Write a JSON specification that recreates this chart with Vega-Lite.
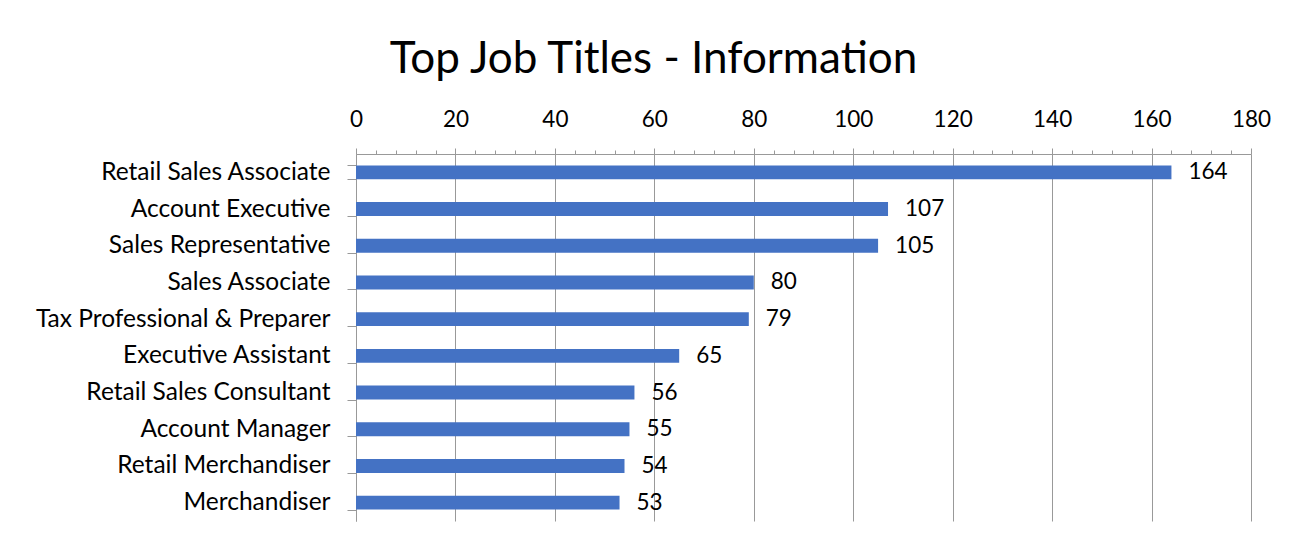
{
  "$schema": "https://vega.github.io/schema/vega-lite/v6.json",
  "autosize": {"type": "none"},
  "padding": {"left": 356, "top": 154, "right": 51, "bottom": 27},
  "width": 895,
  "height": 367,
  "background": "white",
  "title": {
    "text": "Top Job Titles - Information",
    "fontSize": 44,
    "font": "Lato",
    "fontWeight": "normal",
    "color": "black",
    "anchor": "middle",
    "dx": -150,
    "offset": 26
  },
  "data": {
    "values": [
      {"title": "Retail Sales Associate", "count": 164},
      {"title": "Account Executive", "count": 107},
      {"title": "Sales Representative", "count": 105},
      {"title": "Sales Associate", "count": 80},
      {"title": "Tax Professional & Preparer ", "count": 79},
      {"title": "Executive Assistant", "count": 65},
      {"title": "Retail Sales Consultant", "count": 56},
      {"title": "Account Manager", "count": 55},
      {"title": "Retail Merchandiser", "count": 54},
      {"title": "Merchandiser", "count": 53}
    ]
  },
  "encoding": {
    "y": {
      "field": "title",
      "type": "nominal",
      "sort": null,
      "scale": {"paddingInner": 0.62, "paddingOuter": 0.31},
      "axis": {
        "title": null,
        "orient": "left",
        "domainColor": "#999999",
        "tickColor": "#999999",
        "tickSize": 9,
        "tickBand": "extent",
        "labelPadding": 17,
        "labelFont": "Lato",
        "labelFontSize": 24.5,
        "labelColor": "black",
        "labelLimit": 400
      }
    }
  },
  "layer": [
    {
      "mark": {"type": "bar", "color": "#4472C4"},
      "encoding": {
        "x": {
          "field": "count",
          "type": "quantitative",
          "scale": {"domain": [0, 180], "nice": false},
          "axis": {
            "title": null,
            "orient": "top",
            "values": [0, 20, 40, 60, 80, 100, 120, 140, 160, 180],
            "grid": true,
            "gridColor": "#999999",
            "domainColor": "#999999",
            "tickColor": "#999999",
            "tickSize": 6,
            "labelFont": "Lato",
            "labelFontSize": 22.5,
            "labelColor": "black",
            "labelPadding": 17,
            "labelFlush": false,
            "labelOverlap": false
          }
        }
      }
    },
    {
      "mark": {"type": "text", "align": "left", "baseline": "middle", "dx": 17, "fontSize": 22.5, "font": "Lato", "color": "black"},
      "encoding": {
        "x": {
          "field": "count",
          "type": "quantitative",
          "axis": {
            "title": null,
            "orient": "top",
            "values": [4, 8, 12, 16, 24, 28, 32, 36, 44, 48, 52, 56, 64, 68, 72, 76, 84, 88, 92, 96, 104, 108, 112, 116, 124, 128, 132, 136, 144, 148, 152, 156, 164, 168, 172, 176],
            "labels": false,
            "grid": false,
            "domain": false,
            "tickColor": "#999999",
            "tickSize": 4
          }
        },
        "text": {"field": "count", "type": "quantitative"}
      }
    }
  ],
  "resolve": {"axis": {"x": "independent"}},
  "config": {"view": {"stroke": null}}
}
